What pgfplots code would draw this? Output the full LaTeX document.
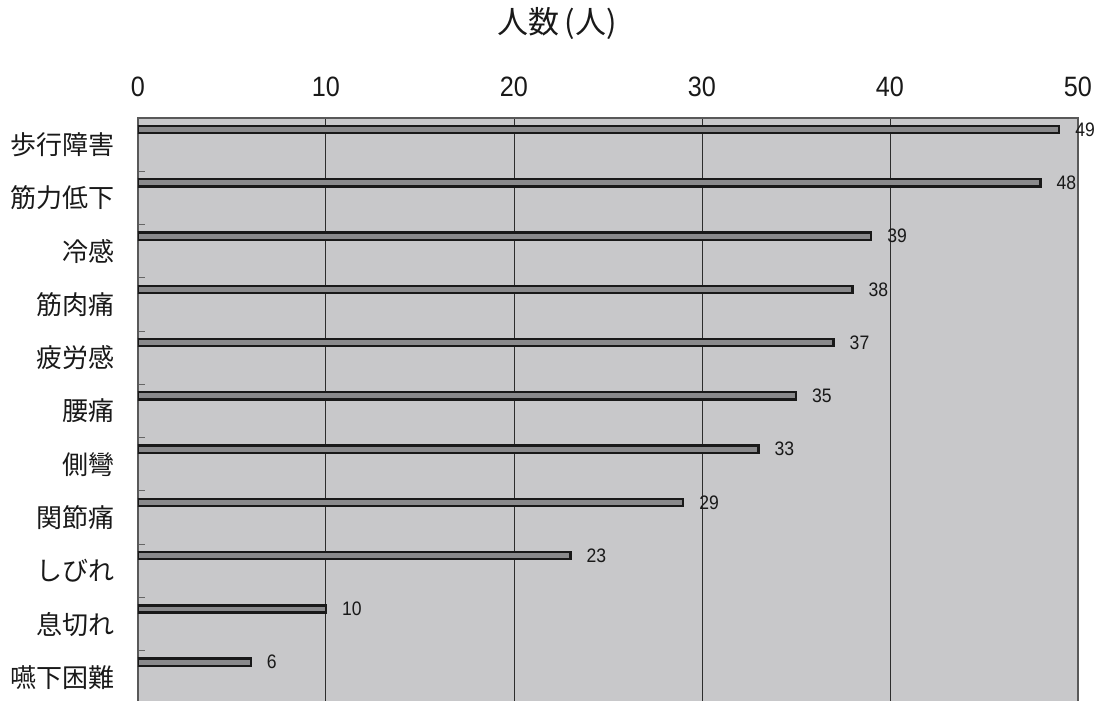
\documentclass[border=0pt]{standalone}
\usepackage{pgfplots}
\pgfplotsset{compat=1.18}
\usepackage{fontspec}
\setmainfont{Liberation Sans}
\newfontfamily\cjk{Noto Sans CJK JP}
\newfontfamily\numfont[FakeStretch=0.9]{Liberation Sans}
\definecolor{bgc}{RGB}{200,200,202}
\definecolor{barc}{RGB}{138,138,140}
\definecolor{edgec}{RGB}{25,25,25}
\definecolor{gridc}{RGB}{45,45,45}
\definecolor{txt}{RGB}{25,25,25}
\begin{document}
\begin{tikzpicture}
\path[use as bounding box] (0,0) rectangle (548.5pt,350.5pt);
\begin{axis}[
  at={(69pt,-1.5pt)}, anchor=south west,
  width=470pt, height=293pt, scale only axis,
  xmin=0, xmax=50, ymin=-0.5, ymax=10.5,
  y dir=reverse,
  xbar, bar width=3.6pt, bar shift=-0.284,
  axis background/.style={fill=bgc},
  axis line style={draw=black!65, line width=0.8pt},
  xtick={0,10,...,50},
  xticklabel pos=top,
  /pgf/number format/assume math mode=true,
  xticklabel style={font=\numfont\fontsize{14pt}{16pt}\selectfont, text=txt, anchor=base, yshift=10.5pt},
  xmajorgrids=true,
  major grid style={draw=gridc, line width=0.5pt},
  ytick={0,...,10},
  yticklabels={歩行障害,筋力低下,冷感,筋肉痛,疲労感,腰痛,側彎,関節痛,しびれ,息切れ,嚥下困難},
  yticklabel style={font=\cjk\fontsize{13pt}{15pt}\selectfont, text=txt, anchor=east, inner sep=0pt, xshift=-11.5pt},
  minor ytick={0.5,1.5,...,9.5},
  major tick length=0pt,
  minor tick length=3.5pt,
  tick align=inside,
  tick style={draw=black!60, line width=0.5pt},
  ytick pos=left,
  title={人数\,(人)},
  title style={font=\cjk\fontsize{15.5pt}{17pt}\selectfont, text=txt, at={(0.4457,1)}, anchor=center, yshift=41pt},
  nodes near coords,
  nodes near coords style={font=\numfont\fontsize{9.75pt}{11pt}\selectfont, text=txt, anchor=west, inner sep=0pt, xshift=7.5pt},
]
\addplot[fill=barc, draw=edgec, line width=1.15pt] coordinates {
  (49,0) (48,1) (39,2) (38,3) (37,4) (35,5) (33,6) (29,7) (23,8) (10,9) (6,10)
};
\end{axis}
\end{tikzpicture}
\end{document}
